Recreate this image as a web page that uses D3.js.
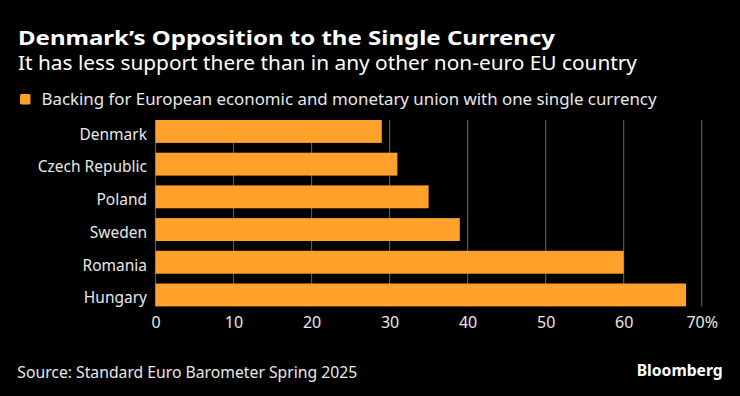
<!DOCTYPE html>
<html>
<head>
<meta charset="utf-8">
<script src="https://cdn.jsdelivr.net/npm/d3@7"></script>
<style>
  html, body { margin: 0; padding: 0; background: #000; }
  svg { display: block; }
  text { font-family: "Noto Sans", "DejaVu Sans", sans-serif; }
</style>
</head>
<body>
<svg id="chart" width="740" height="396"></svg>
<script>
const categories = ["Denmark", "Czech Republic", "Poland", "Sweden", "Romania", "Hungary"];
const values = [29, 31, 35, 39, 60, 68];
const tickValues = [0, 10, 20, 30, 40, 50, 60, 70];
const tickLabels = ["0", "10", "20", "30", "40", "50", "60", "70%"];

const titleText = "Denmark\u2019s Opposition to the Single Currency";
const subtitleText = "It has less support there than in any other non-euro EU country";
const legendText = "Backing for European economic and monetary union with one single currency";
const sourceText = "Source: Standard Euro Barometer Spring 2025";
const brandText = "Bloomberg";

const W = 740, H = 396;
const barColor = "#ffa12b";
const svg = d3.select("#chart");
svg.append("rect").attr("width", W).attr("height", H).attr("fill", "#000");

const x = d3.scaleLinear().domain([0, 70]).range([155.5, 701.7]);
const y = d3.scaleBand().domain(categories).range([115.1, 311.3])
  .paddingInner(0.3).paddingOuter(0.15);

function fit(sel, w) {
  const n = sel.node();
  const len = n.getComputedTextLength();
  if (Math.abs(len - w) > 1) sel.attr("textLength", w).attr("lengthAdjust", "spacingAndGlyphs");
}

// Title
fit(svg.append("text").attr("x", 18).attr("y", 45).attr("fill", "#fff")
  .attr("font-size", 20).attr("font-weight", "bold").text(titleText), 537);
fit(svg.append("text").attr("x", 18).attr("y", 70).attr("fill", "#fff")
  .attr("font-size", 19.5).text(subtitleText), 619);

// Legend
svg.append("rect").attr("x", 20).attr("y", 94).attr("width", 10.5).attr("height", 10.5)
  .attr("rx", 1.5).attr("fill", barColor);
fit(svg.append("text").attr("x", 41.5).attr("y", 105).attr("fill", "#e8e8e8")
  .attr("font-size", 16.5).text(legendText), 615);

// Gridlines
const gTop = y(categories[0]);
const gBot = y(categories[categories.length - 1]) + y.bandwidth();
svg.append("g").selectAll("line").data(tickValues).join("line")
  .attr("x1", d => x(d)).attr("x2", d => x(d))
  .attr("y1", gTop).attr("y2", gBot)
  .attr("stroke", "#5a5a5a").attr("stroke-width", 1.2);

// Bars
svg.append("g").selectAll("rect").data(categories).join("rect")
  .attr("x", x(0))
  .attr("y", d => y(d))
  .attr("width", (d, i) => x(values[i]) - x(0))
  .attr("height", y.bandwidth())
  .attr("fill", barColor);

// Category labels
svg.append("g").selectAll("text").data(categories).join("text")
  .attr("x", 147)
  .attr("y", d => y(d) + y.bandwidth() / 2 + 8.3)
  .attr("text-anchor", "end")
  .attr("fill", "#e8e8e8")
  .attr("font-size", 15.5)
  .text(d => d);

// X axis labels
const xAxis = d3.axisBottom(x).tickValues(tickValues)
  .tickFormat((d, i) => tickLabels[i]).tickSize(0).tickPadding(0);
const ax = svg.append("g").attr("transform", `translate(0, ${316.5})`).call(xAxis);
ax.select(".domain").remove();
ax.selectAll("text").attr("fill", "#e8e8e8").attr("font-size", 16)
  .attr("font-family", "\"Noto Sans\", \"DejaVu Sans\", sans-serif")
  .attr("dy", "0.72em");

// Footer
fit(svg.append("text").attr("x", 17.3).attr("y", 378.3).attr("fill", "#e8e8e8")
  .attr("font-size", 16).text(sourceText), 340);
fit(svg.append("text").attr("x", 722.7).attr("y", 376).attr("text-anchor", "end")
  .attr("fill", "#fff").attr("font-size", 16.5).attr("font-weight", "bold").text(brandText), 86);
</script>
</body>
</html>
